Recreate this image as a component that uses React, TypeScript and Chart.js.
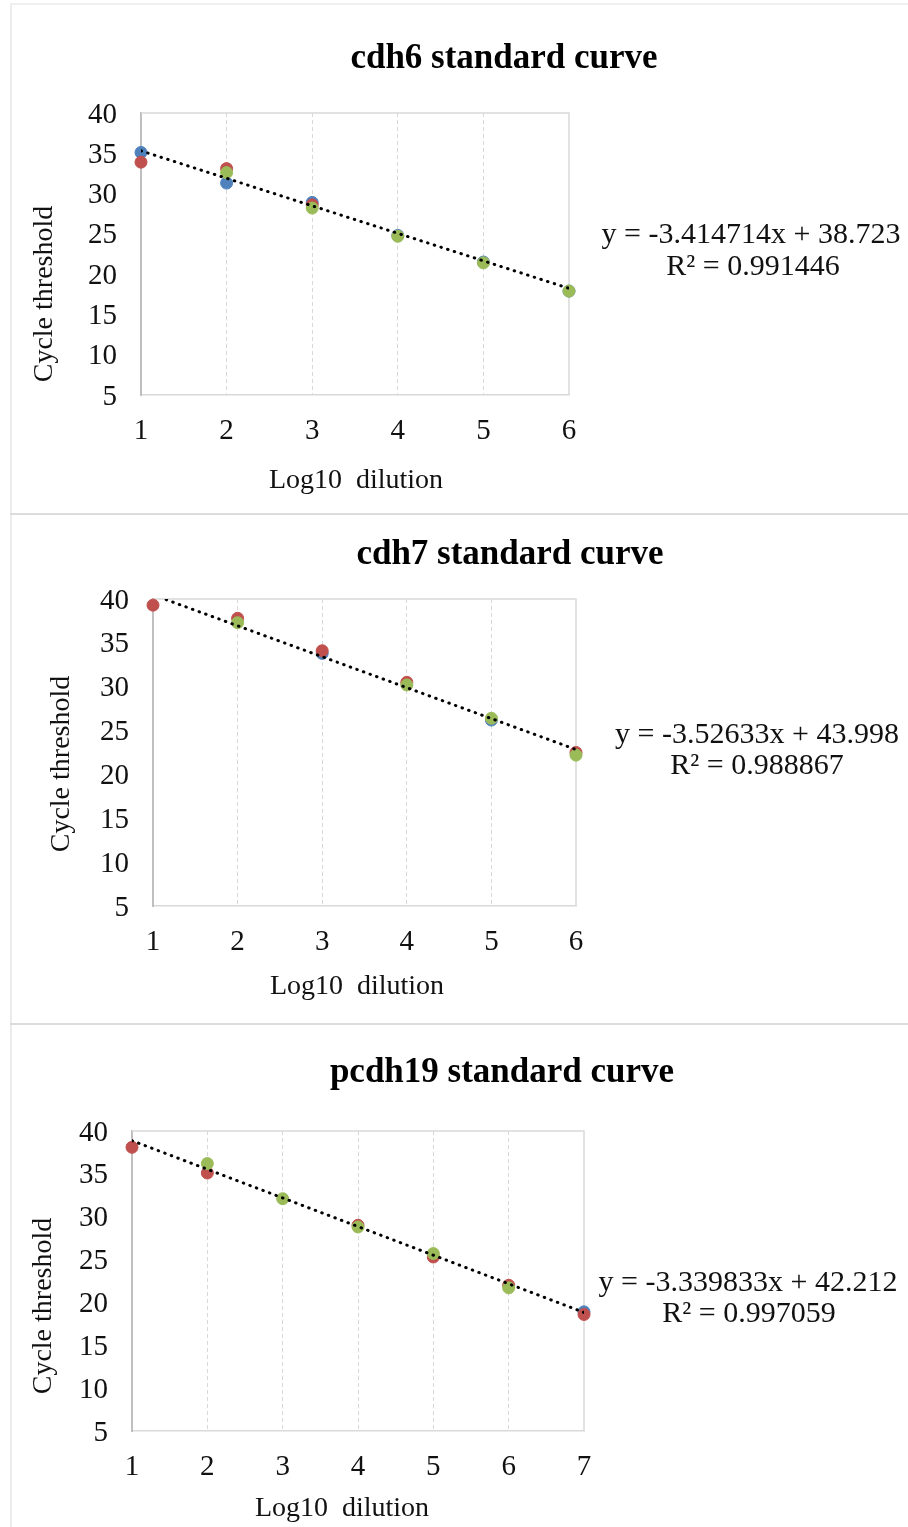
import React, { useEffect, useRef } from "react";
import { Chart, registerables } from "chart.js";

Chart.register(...registerables);

// ---------- Data ----------
const BLUE = "#4F81BD";
const RED = "#C0504D";
const GREEN = "#9BBB59";

// cdh6
const cdh6Dilutions = [1, 2, 3, 4, 5, 6];
const cdh6Blue = [35.1, 31.3, 28.9, 24.8, 21.5, 17.9];
const cdh6Red = [33.9, 33.1, 28.6, null, null, null];
const cdh6Green = [null, 32.6, 28.2, 24.7, 21.4, 17.9];
const cdh6Slope = -3.414714;
const cdh6Intercept = 38.723;
const cdh6R2 = "0.991446";

// cdh7
const cdh7Dilutions = [1, 2, 3, 4, 5, 6];
const cdh7Blue = [null, null, 33.8, null, 26.2, null];
const cdh7Red = [39.3, 37.8, 34.1, 30.5, null, 22.5];
const cdh7Green = [null, 37.3, null, 30.2, 26.4, 22.2];
const cdh7Slope = -3.52633;
const cdh7Intercept = 43.998;
const cdh7R2 = "0.988867";

// pcdh19
const pcdh19Dilutions = [1, 2, 3, 4, 5, 6, 7];
const pcdh19Blue = [null, null, null, null, null, null, 18.9];
const pcdh19Red = [38.1, 35.1, null, 29.0, 25.3, 22.0, 18.6];
const pcdh19Green = [null, 36.2, 32.1, 28.8, 25.7, 21.7, null];
const pcdh19Slope = -3.339833;
const pcdh19Intercept = 42.212;
const pcdh19R2 = "0.997059";

const yTicksMin = 5;
const yTicksMax = 40;
const yTickStep = 5;

// ---------- Helpers ----------
const FONT = "'Liberation Serif', 'Times New Roman', serif";

function pts(xs: number[], ys: (number | null)[]) {
  const out: { x: number; y: number }[] = [];
  xs.forEach((x, i) => {
    const y = ys[i];
    if (y !== null && y !== undefined) out.push({ x, y });
  });
  return out;
}

function eqText(slope: number, intercept: number) {
  const s = slope < 0 ? "-" + Math.abs(slope) : String(slope);
  return `y = ${s}x + ${intercept}`;
}

type PanelCfg = {
  name: string;
  title: string;
  xs: number[];
  blue: (number | null)[];
  red: (number | null)[];
  green: (number | null)[];
  slope: number;
  intercept: number;
  r2: string;
  top: number;
  height: number;
  area: { left: number; right: number; top: number; bottom: number };
  titlePos: [number, number];
  yTitlePos: [number, number];
  xTitlePos: [number, number];
  eq1Pos: [number, number];
  eq2Pos: [number, number];
};

const panels: PanelCfg[] = [
  {
    name: "cdh6",
    title: "cdh6 standard curve",
    xs: cdh6Dilutions,
    blue: cdh6Blue,
    red: cdh6Red,
    green: cdh6Green,
    slope: cdh6Slope,
    intercept: cdh6Intercept,
    r2: cdh6R2,
    top: 0,
    height: 512,
    area: { left: 141, right: 569, top: 113, bottom: 395 },
    titlePos: [504, 59],
    yTitlePos: [45, 294],
    xTitlePos: [356, 481],
    eq1Pos: [751, 235],
    eq2Pos: [753, 267],
  },
  {
    name: "cdh7",
    title: "cdh7 standard curve",
    xs: cdh7Dilutions,
    blue: cdh7Blue,
    red: cdh7Red,
    green: cdh7Green,
    slope: cdh7Slope,
    intercept: cdh7Intercept,
    r2: cdh7R2,
    top: 516,
    height: 506,
    area: { left: 153, right: 576, top: 599, bottom: 906 },
    titlePos: [510, 555],
    yTitlePos: [62, 764],
    xTitlePos: [357, 987],
    eq1Pos: [757, 735],
    eq2Pos: [757, 766],
  },
  {
    name: "pcdh19",
    title: "pcdh19 standard curve",
    xs: pcdh19Dilutions,
    blue: pcdh19Blue,
    red: pcdh19Red,
    green: pcdh19Green,
    slope: pcdh19Slope,
    intercept: pcdh19Intercept,
    r2: pcdh19R2,
    top: 1026,
    height: 501,
    area: { left: 132, right: 584, top: 1131, bottom: 1431 },
    titlePos: [502, 1073],
    yTitlePos: [44, 1306],
    xTitlePos: [342, 1509],
    eq1Pos: [748, 1283],
    eq2Pos: [749, 1314],
  },
];

const Y_AXIS_W = 60;
const X_AXIS_H = 50;
const CANVAS_W = 908;

function Panel({ cfg }: { cfg: PanelCfg }) {
  const ref = useRef<HTMLCanvasElement | null>(null);

  useEffect(() => {
    if (!ref.current) return;
    const T = cfg.top;
    const xMin = cfg.xs[0];
    const xMax = cfg.xs[cfg.xs.length - 1];

    const textPlugin = {
      id: "panelText" + cfg.name,
      beforeDatasetsDraw(chart: any) {
        const { ctx, chartArea } = chart;
        ctx.save();
        ctx.strokeStyle = "#d9d9d9";
        ctx.lineWidth = 1.5;
        ctx.beginPath();
        ctx.moveTo(chartArea.left, chartArea.top);
        ctx.lineTo(chartArea.right, chartArea.top);
        ctx.lineTo(chartArea.right, chartArea.bottom);
        ctx.stroke();
        ctx.restore();
      },
      afterDraw(chart: any) {
        const ctx = chart.ctx as CanvasRenderingContext2D;
        ctx.save();
        ctx.fillStyle = "#000";
        ctx.textAlign = "center";
        ctx.textBaseline = "middle";
        ctx.font = `bold 35px ${FONT}`;
        ctx.fillText(cfg.title, cfg.titlePos[0], cfg.titlePos[1] - T);

        ctx.fillStyle = "#111";
        ctx.font = `28px ${FONT}`;
        ctx.fillText("Log10  dilution", cfg.xTitlePos[0], cfg.xTitlePos[1] - T);

        ctx.font = `30px ${FONT}`;
        ctx.fillText(eqText(cfg.slope, cfg.intercept), cfg.eq1Pos[0], cfg.eq1Pos[1] - T);
        ctx.fillText("R\u00B2 = " + cfg.r2, cfg.eq2Pos[0], cfg.eq2Pos[1] - T);

        ctx.font = `28px ${FONT}`;
        ctx.translate(cfg.yTitlePos[0], cfg.yTitlePos[1] - T);
        ctx.rotate(-Math.PI / 2);
        ctx.fillText("Cycle threshold", 0, 0);
        ctx.restore();
      },
    };

    const pointStyle = (color: string) => ({
      type: "scatter" as const,
      backgroundColor: color,
      borderColor: color,
      borderWidth: 1,
      pointRadius: 6,
      pointHoverRadius: 6,
      showLine: false,
      clip: false as any,
    });

    const chart = new Chart(ref.current, {
      type: "scatter",
      data: {
        datasets: [
          {
            type: "line",
            label: "Trendline",
            data: [
              { x: xMin, y: cfg.slope * xMin + cfg.intercept },
              { x: xMax, y: cfg.slope * xMax + cfg.intercept },
            ],
            borderColor: "#000",
            borderWidth: 3,
            borderDash: [0.5, 6.5],
            borderCapStyle: "round",
            pointRadius: 0,
            fill: false,
            tension: 0,
            order: 0,
          } as any,
          { label: "Rep 3", data: pts(cfg.xs, cfg.green), ...pointStyle(GREEN), order: 1 },
          { label: "Rep 2", data: pts(cfg.xs, cfg.red), ...pointStyle(RED), order: 2 },
          { label: "Rep 1", data: pts(cfg.xs, cfg.blue), ...pointStyle(BLUE), order: 3 },
        ],
      },
      options: {
        responsive: false,
        animation: false,
        devicePixelRatio: 1,
        layout: {
          padding: {
            left: cfg.area.left - Y_AXIS_W,
            right: CANVAS_W - cfg.area.right,
            top: cfg.area.top - T,
            bottom: cfg.height - (cfg.area.bottom - T) - X_AXIS_H,
          },
        },
        plugins: {
          legend: { display: false },
          title: { display: false },
          tooltip: { enabled: false },
        },
        scales: {
          x: {
            type: "linear",
            min: xMin,
            max: xMax,
            afterFit: (s: any) => {
              s.height = X_AXIS_H;
            },
            ticks: {
              stepSize: 1,
              padding: 19,
              color: "#111",
              font: { family: FONT, size: 29 },
            },
            grid: {
              drawTicks: false,
              lineWidth: 1,
              color: (c: any) =>
                c.tick && (c.tick.value === xMin || c.tick.value === xMax)
                  ? "rgba(0,0,0,0)"
                  : "#d9d9d9",
            },
            border: { display: true, color: "#d9d9d9", width: 1.5, dash: [4, 3] },
          },
          y: {
            type: "linear",
            min: yTicksMin,
            max: yTicksMax,
            afterFit: (s: any) => {
              s.width = Y_AXIS_W;
            },
            ticks: {
              stepSize: yTickStep,
              padding: 24,
              labelOffset: 2,
              color: "#111",
              font: { family: FONT, size: 29 },
            },
            grid: { display: false, drawTicks: false },
            border: { display: true, color: "#bfbfbf", width: 2 },
          },
        },
      },
      plugins: [textPlugin],
    });

    return () => chart.destroy();
  }, [cfg]);

  return (
    <canvas
      ref={ref}
      width={CANVAS_W}
      height={cfg.height}
      style={{ position: "absolute", left: 0, top: cfg.top, width: CANVAS_W, height: cfg.height, display: "block" }}
    />
  );
}

export default function App() {
  return (
    <div
      style={{
        position: "fixed",
        left: 0,
        top: 0,
        width: CANVAS_W,
        height: 1527,
        background: "#fff",
        overflow: "hidden",
      }}
    >
      {/* frame lines */}
      <div style={{ position: "absolute", left: 10, top: 3, width: 2, height: 1524, background: "#ececec" }} />
      <div style={{ position: "absolute", left: 10, top: 3, width: 898, height: 2, background: "#f0f0f0" }} />
      <div style={{ position: "absolute", left: 10, top: 513, width: 898, height: 2, background: "#dcdcdc" }} />
      <div style={{ position: "absolute", left: 10, top: 1023, width: 898, height: 2, background: "#dcdcdc" }} />
      {panels.map((p) => (
        <Panel key={p.name} cfg={p} />
      ))}
    </div>
  );
}
